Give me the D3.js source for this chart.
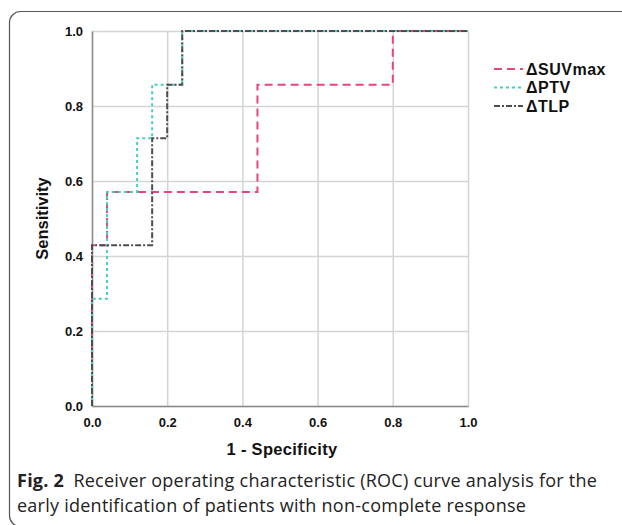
<!DOCTYPE html>
<html>
<head>
<meta charset="utf-8">
<script src="https://cdn.jsdelivr.net/npm/d3@7"></script>
<style>
  body { margin: 0; background: #fff; }
  svg { display: block; }
</style>
</head>
<body>
<svg id="chart" width="622" height="525"></svg>
<script>
// ROC curves, step points as [1 - specificity, sensitivity]
const suvmax = [[0, 0], [0, 0.429], [0.04, 0.429], [0.04, 0.571], [0.44, 0.571], [0.44, 0.857], [0.8, 0.857], [0.8, 1], [1, 1]];
const ptv = [[0, 0], [0, 0.286], [0.04, 0.286], [0.04, 0.571], [0.12, 0.571], [0.12, 0.714], [0.16, 0.714], [0.16, 0.857], [0.24, 0.857], [0.24, 1], [1, 1]];
const tlp = [[0, 0], [0, 0.429], [0.16, 0.429], [0.16, 0.714], [0.2, 0.714], [0.2, 0.857], [0.24, 0.857], [0.24, 1], [1, 1]];
const seriesNames = ['\u0394SUVmax', '\u0394PTV', '\u0394TLP'];
const ticks = [0, 0.2, 0.4, 0.6, 0.8, 1.0];

const series = [
  { name: seriesNames[0], values: suvmax, color: '#e8457b', dash: '8,5' },
  { name: seriesNames[1], values: ptv, color: '#45cfc3', dash: '3,3' },
  { name: seriesNames[2], values: tlp, color: '#4d4d4d', dash: '6,2,2,2' },
];

const svg = d3.select('#chart');
const margin = { left: 92, top: 31, right: 154, bottom: 119 };
const width = 622 - margin.left - margin.right;
const height = 525 - margin.top - margin.bottom;
const axisFont = '"Liberation Sans", Arial, sans-serif';

// rounded frame, right and bottom run off the picture
svg.append('rect')
  .attr('x', 9.5).attr('y', 11.5)
  .attr('width', 640).attr('height', 515)
  .attr('rx', 11)
  .attr('fill', 'none')
  .attr('stroke', '#555')
  .attr('stroke-width', 1.2);

const x = d3.scaleLinear().domain([0, 1]).range([0, width]);
const y = d3.scaleLinear().domain([0, 1]).range([height, 0]);

const chart = svg.append('g')
  .attr('transform', 'translate(' + margin.left + ',' + margin.top + ')');

// grid
chart.append('g')
  .attr('class', 'grid')
  .attr('transform', 'translate(0,' + height + ')')
  .call(d3.axisBottom(x).tickValues(ticks).tickSize(-height).tickFormat(''))
  .call(g => g.select('.domain').remove());
chart.append('g')
  .attr('class', 'grid')
  .call(d3.axisLeft(y).tickValues(ticks).tickSize(-width).tickFormat(''))
  .call(g => g.select('.domain').remove());
chart.selectAll('.grid line').attr('stroke', '#d4d4d4').attr('stroke-width', 1.5);

// axes
const xAxis = chart.append('g')
  .attr('transform', 'translate(0,' + height + ')')
  .call(d3.axisBottom(x).tickValues(ticks).tickSize(0).tickPadding(12).tickFormat(d3.format('.1f')));
const yAxis = chart.append('g')
  .call(d3.axisLeft(y).tickValues(ticks).tickSize(0).tickPadding(9).tickFormat(d3.format('.1f')));
xAxis.select('.domain').attr('stroke', '#8a8a8a').attr('stroke-width', 1.5);
yAxis.select('.domain').attr('stroke', '#8a8a8a').attr('stroke-width', 1.5);
svg.selectAll('.tick text')
  .style('font-family', axisFont)
  .style('font-weight', 'bold')
  .style('font-size', '13px')
  .attr('fill', '#111');

// axis labels
svg.append('text')
  .attr('text-anchor', 'middle')
  .attr('x', margin.left + width / 2 + 2)
  .attr('y', 455)
  .style('font-family', axisFont)
  .style('font-weight', 'bold')
  .style('font-size', '16.5px')
  .style('letter-spacing', '0.3px')
  .attr('fill', '#111')
  .text('1 - Specificity');
svg.append('text')
  .attr('text-anchor', 'middle')
  .attr('transform', 'translate(48,' + (margin.top + height / 2) + ') rotate(-90)')
  .style('font-family', axisFont)
  .style('font-weight', 'bold')
  .style('font-size', '16.5px')
  .attr('fill', '#111')
  .text('Sensitivity');

// curves
const line = d3.line().x(d => x(d[0])).y(d => y(d[1]));
chart.selectAll('path.roc')
  .data(series)
  .enter()
  .append('path')
  .attr('class', 'roc')
  .attr('d', d => line(d.values))
  .attr('fill', 'none')
  .attr('stroke', d => d.color)
  .attr('stroke-width', 2)
  .attr('stroke-dasharray', d => d.dash);

// legend
const legend = svg.append('g').attr('transform', 'translate(494,69)');
const item = legend.selectAll('g')
  .data(series)
  .enter()
  .append('g')
  .attr('transform', (d, i) => 'translate(0,' + i * 18.5 + ')');
item.append('line')
  .attr('x1', 0).attr('x2', 29)
  .attr('stroke', d => d.color)
  .attr('stroke-width', 2)
  .attr('stroke-dasharray', d => d.dash);
item.append('text')
  .attr('x', 32)
  .attr('dy', '0.36em')
  .style('font-family', axisFont)
  .style('font-weight', 'bold')
  .style('font-size', '16px')
  .style('letter-spacing', '0.5px')
  .attr('fill', '#111')
  .text(d => d.name);

// caption
const caption = svg.append('g')
  .style('font-family', '"Open Sans", "Noto Sans", sans-serif')
  .style('font-size', '18px')
  .style('letter-spacing', '0.25px')
  .attr('fill', '#222');
const line1 = caption.append('text').attr('x', 17).attr('y', 487);
line1.append('tspan').style('font-weight', 'bold').text('Fig. 2');
line1.append('tspan').text('\u2002Receiver operating characteristic (ROC) curve analysis for the');
caption.append('text').attr('x', 17).attr('y', 512)
  .text('early identification of patients with non-complete response');
</script>
</body>
</html>
